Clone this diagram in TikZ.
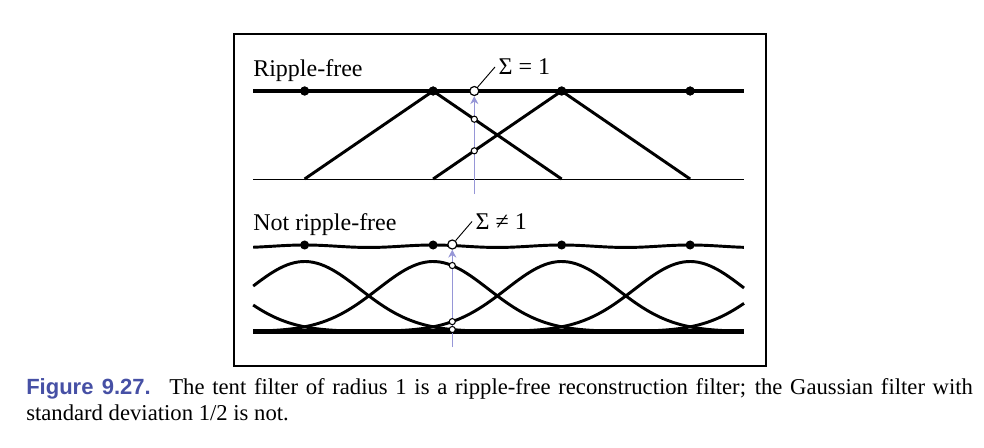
\documentclass[tikz,border=0pt]{standalone}
\usepackage{fontspec}
\newfontfamily\capserif{Liberation Serif}
\newfontfamily\capsans{Liberation Sans}
\usetikzlibrary{arrows.meta}
\definecolor{capblue}{RGB}{70,80,165}
\definecolor{arrowblue}{RGB}{150,150,215}
\tikzset{
  lbl/.style={inner sep=0pt,font=\capserif\fontsize{18}{21}\selectfont},
  sumlbl/.style={lbl,inner xsep=2.5pt},
  curve/.style={draw=black,line width=2.2pt},
  axis/.style={draw=black,line width=3pt},
  sumarrow/.style={draw=arrowblue,line width=0.7pt,-{Stealth[length=6pt,width=6pt,inset=2pt]}},
  dot/.style={circle,fill=black,inner sep=0pt,minimum size=6.8pt},
  sumpt/.style={circle,draw=black,fill=white,line width=0.9pt,inner sep=0pt,minimum size=6.8pt},
  pt/.style={circle,draw=black,fill=white,line width=0.8pt,inner sep=0pt,minimum size=4.6pt}
}
\begin{document}
\begin{tikzpicture}[x=0.75pt,y=-0.75pt,
  declare function={g(\t,\c)=exp(-min((\t-\c)^2/0.37,15));
    sumg(\t)=g(\t,-1)+g(\t,0)+g(\t,1)+g(\t,2)+g(\t,3)+g(\t,4);}]
  \useasboundingbox (0,0) rectangle (984,447);
  \fill[white] (0,0) rectangle (984,447);
  \draw[line width=1.5pt] (233.5,34) rectangle (765.5,366);

  % ripple-free
  \node[lbl,anchor=base west] (rf) at (253,76) {Ripple-free};
  \coordinate (ha) at (253,91);
  \coordinate (hb) at (744,91);
  \coordinate (ba) at (253,179);
  \coordinate (bb) at (744,179);
  \coordinate (t1) at (304.6,179);
  \coordinate (t2) at (433.1,179);
  \coordinate (t3) at (561.6,179);
  \coordinate (t4) at (690.1,179);
  \begin{scope}[every node/.style={dot}]
  \node (d1) at (304.6,91) {};
  \node (d2) at (433.1,91) {};
  \node (d3) at (561.6,91) {};
  \node (d4) at (690.1,91) {};
  \end{scope}
  \draw[curve] (t1) -- (d2.center) -- (t3);
  \draw[curve] (t2) -- (d3.center) -- (t4);
  \draw[axis] (ha) -- (hb);
  \draw[line width=0.75pt] (ba) -- (bb);
  \begin{scope}[every node/.style={dot}]
  \node at (d1) {};
  \node at (d2) {};
  \node at (d3) {};
  \node at (d4) {};
  \end{scope}
  \coordinate (a1) at (474.3,194);
  \node[sumpt] (s1) at (474.3,91) {};
  \draw[sumarrow] (a1) -- (s1);
  \node[pt] (p1) at (474.3,119.2) {};
  \node[pt] (p2) at (474.3,150.8) {};
  \node[sumlbl,anchor=west] (l1) at (495,67) {Σ = 1};
  \draw[line width=0.7pt] (s1) -- (l1.west);

  % not ripple-free
  \node[lbl,anchor=base west] (nrf) at (253,230) {Not ripple-free};
  \coordinate (bc) at (253,331.5);
  \coordinate (bd) at (744,331.5);
  \draw[curve] plot[domain=-0.4:1.2,samples=60] ({304.6+128.5*\x},{331.5-70*g(\x,-1)});
  \draw[curve] plot[domain=-0.4:2.2,samples=90] ({304.6+128.5*\x},{331.5-70*g(\x,0)});
  \draw[curve] plot[domain=-0.4:3.2,samples=120] ({304.6+128.5*\x},{331.5-70*g(\x,1)});
  \draw[curve] plot[domain=-0.2:3.42,samples=120] ({304.6+128.5*\x},{331.5-70*g(\x,2)});
  \draw[curve] plot[domain=0.8:3.42,samples=90] ({304.6+128.5*\x},{331.5-70*g(\x,3)});
  \draw[curve] plot[domain=1.8:3.42,samples=60] ({304.6+128.5*\x},{331.5-70*g(\x,4)});
  \draw[axis,line width=3.2pt] (bc) -- (bd);
  \draw[curve] plot[domain=-0.4:3.42,samples=160] ({304.6+128.5*\x},{245-22*(sumg(\x)-1.134)});
  \begin{scope}[every node/.style={dot}]
  \node (e1) at (304.6,245) {};
  \node (e2) at (433.1,245) {};
  \node (e3) at (561.6,245) {};
  \node (e4) at (690.1,245) {};
  \end{scope}
  \coordinate (a2) at (452.3,347);
  \node[sumpt] (s2) at (452.3,244.5) {};
  \draw[sumarrow] (a2) -- (s2);
  \node[pt] (q1) at (452.3,265.5) {};
  \node[pt] (q2) at (452.3,321.6) {};
  \node[pt] (q3) at (452.3,329.5) {};
  \node[sumlbl,anchor=west] (l2) at (472,221.5) {Σ ≠ 1};
  \draw[line width=0.7pt] (s2) -- (l2.west);

  % caption
  \node[anchor=north west,inner sep=0pt,text width=710pt,align=justify,
    font=\capserif\fontsize{17}{19.5}\selectfont] (cap) at (26,378.3)
    {{\capsans\bfseries\fontsize{16.5}{19.5}\selectfont\color{capblue}Figure 9.27.}\hspace{14pt}The tent filter of radius 1 is a ripple-free reconstruction filter; the Gaussian filter with\linebreak standard deviation 1/2 is not.};
\end{tikzpicture}
\end{document}
